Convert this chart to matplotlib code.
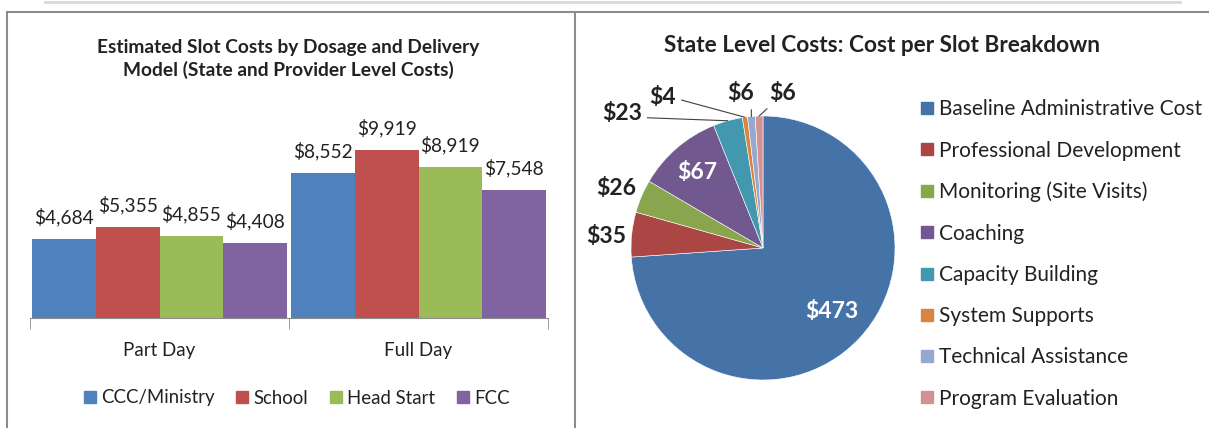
import numpy as np
import matplotlib.pyplot as plt
from matplotlib.lines import Line2D
from matplotlib.patches import Rectangle

plt.rcParams['font.family'] = ['Lato', 'DejaVu Sans']

# bar chart data
groups = ['Part Day', 'Full Day']
providers = ['CCC/Ministry', 'School', 'Head Start', 'FCC']
costs = {
    'CCC/Ministry': [4684, 8552],
    'School': [5355, 9919],
    'Head Start': [4855, 8919],
    'FCC': [4408, 7548],
}
bar_colors = ['#4F81BD', '#C0504D', '#9BBB59', '#8064A2']

# pie data
pie_labels = ['Baseline Administrative Cost', 'Professional Development',
              'Monitoring (Site Visits)', 'Coaching', 'Capacity Building',
              'System Supports', 'Technical Assistance', 'Program Evaluation']
pie_values = [473, 35, 26, 67, 23, 4, 6, 6]
pie_colors = ['#4572A7', '#AA4643', '#89A54E', '#71588F', '#4198AF',
              '#DB843D', '#93A9CF', '#D19392']

W, H = 1209, 428
fig = plt.figure(figsize=(W / 100, H / 100), dpi=100)
txt = '#222222'

def fx(px):
    return px / W

def fy(py):
    return 1 - py / H

# panel borders
fig.add_artist(Rectangle((fx(7), fy(430)), fx(1215) - fx(7), fy(12) - fy(430),
                         transform=fig.transFigure, fill=False,
                         edgecolor='#8c8c8c', lw=1.5))
fig.add_artist(Line2D([fx(575), fx(575)], [fy(12), fy(430)],
                      transform=fig.transFigure, color='#8c8c8c', lw=1.5))
fig.add_artist(Line2D([fx(45), fx(1180)], [fy(1.5), fy(1.5)],
                      transform=fig.transFigure, color='#d8d8d8', lw=2))

# ---------------- bar chart ----------------
ax = fig.add_axes([fx(30), fy(318), fx(548) - fx(30), fy(115) - fy(318)])
x = np.arange(len(groups))
w = 0.246
for i, p in enumerate(providers):
    pos = x + (i - 1.5) * w
    ax.bar(pos, costs[p], width=w, color=bar_colors[i], label=p)
    for xp, v in zip(pos, costs[p]):
        ax.text(xp, v + 1300, f'${v:,}', ha='center', va='center',
                fontsize=13.8, color=txt)

ax.set_xlim(-0.5, 1.5)
ax.set_ylim(0, 12000)
ax.set_yticks([])
for s in ['top', 'left', 'right']:
    ax.spines[s].set_visible(False)
ax.spines['bottom'].set_color('#8c8c8c')
ax.set_xticks(x)
ax.set_xticklabels(groups, fontsize=13.5, color=txt)
ax.tick_params(axis='x', which='major', length=0, pad=17)
ax.set_xticks([-0.5, 0.5, 1.5], minor=True)
ax.tick_params(axis='x', which='minor', length=8, color='#8c8c8c')

fig.text(fx(288), fy(59), 'Estimated Slot Costs by Dosage and Delivery\n'
         'Model (State and Provider Level Costs)', ha='center', va='center',
         fontsize=13.8, fontweight='bold', color=txt, linespacing=1.35)

handles = [Line2D([], [], marker='s', ls='none', markersize=8.5,
                  color=c, label=p) for c, p in zip(bar_colors, providers)]
fig.legend(handles=handles, loc='center', bbox_to_anchor=(fx(297), fy(398)),
           ncol=4, frameon=False, fontsize=13.4, handlelength=0.6,
           handletextpad=0.3, columnspacing=1.2, labelcolor=txt)

# ---------------- pie chart ----------------
cx, cy, r = 763, 248, 132
pax = fig.add_axes([fx(cx - r), fy(cy + r), fx(2 * r), fy(0) - fy(2 * r)])
wedges, _ = pax.pie(pie_values, colors=pie_colors, startangle=90,
                    counterclock=False, radius=1,
                    wedgeprops=dict(edgecolor='white', linewidth=0.4))
pax.set_xlim(-1, 1)
pax.set_ylim(-1, 1)
pax.set_aspect('auto')
pax.axis('off')

def edge(wd, rr=1.0):
    a = np.deg2rad((wd.theta1 + wd.theta2) / 2)
    return rr * np.cos(a), rr * np.sin(a)

lab_kw = dict(fontsize=16.5, fontweight='bold', ha='center', va='center')
# inside labels
pax.text(0.52, -0.48, f'${pie_values[0]}', color='white', **lab_kw)
pax.text(-0.5, 0.57, f'${pie_values[3]}', color='white', **lab_kw)
# outside labels
pax.text(-1.19, 0.09, f'${pie_values[1]}', color=txt, clip_on=False, **lab_kw)
pax.text(-1.11, 0.45, f'${pie_values[2]}', color=txt, clip_on=False, **lab_kw)
leader = dict(arrowstyle='-', color='#404040', lw=0.8, shrinkA=2, shrinkB=0)
pax.annotate(f'${pie_values[4]}', xy=edge(wedges[4]), xytext=(-1.07, 1.02),
             arrowprops=dict(leader, relpos=(1, 0.3)), color=txt,
             annotation_clip=False, **lab_kw)
pax.annotate(f'${pie_values[5]}', xy=edge(wedges[5]), xytext=(-0.76, 1.14),
             arrowprops=dict(leader, relpos=(1, 0.45)), color=txt,
             annotation_clip=False, **lab_kw)
pax.annotate(f'${pie_values[6]}', xy=edge(wedges[6]), xytext=(-0.17, 1.17),
             arrowprops=dict(leader, relpos=(0.9, 0.0)), color=txt,
             annotation_clip=False, **lab_kw)
pax.annotate(f'${pie_values[7]}', xy=edge(wedges[7]), xytext=(0.15, 1.17),
             arrowprops=dict(leader, relpos=(0.1, 0.0)), color=txt,
             annotation_clip=False, **lab_kw)

fig.text(fx(882), fy(46), 'State Level Costs: Cost per Slot Breakdown',
         ha='center', va='center', fontsize=16.3, fontweight='bold', color=txt)

phandles = [Line2D([], [], marker='s', ls='none', markersize=9,
                   color=c, label=l) for c, l in zip(pie_colors, pie_labels)]
fig.legend(handles=phandles, loc='upper left',
           bbox_to_anchor=(fx(912), fy(91)), frameon=False, fontsize=15,
           handlelength=0.6, handletextpad=0.3, labelspacing=1.02,
           labelcolor=txt, borderaxespad=0)

fig.savefig('out.png', dpi=100)
